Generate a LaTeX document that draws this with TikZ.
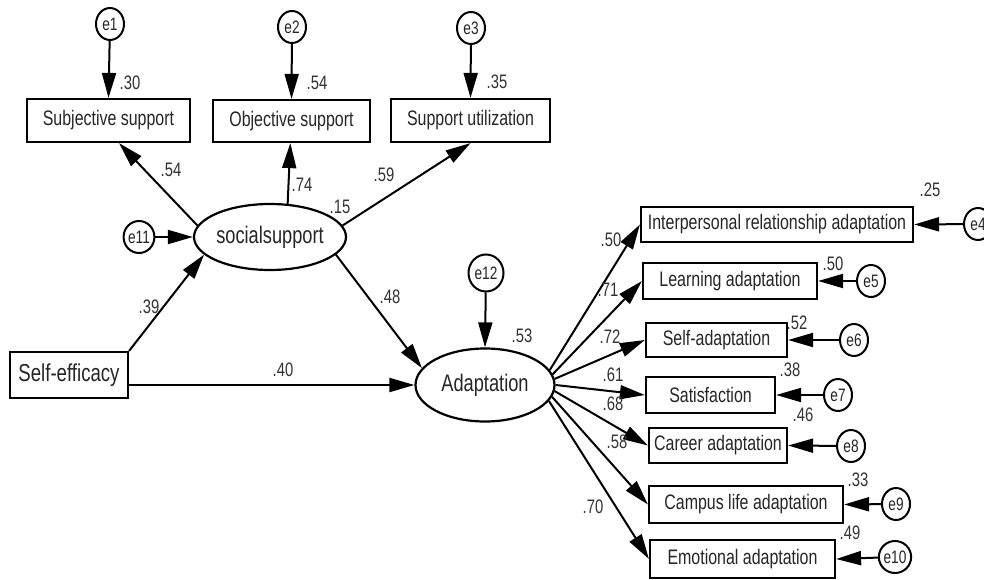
\documentclass[tikz,border=0pt]{standalone}
\usepackage{fontspec}
\setmainfont{Liberation Sans}[FakeStretch=0.76]
\usetikzlibrary{arrows.meta,shapes.geometric}
\begin{document}
\begin{tikzpicture}[x=1pt,y=-1pt,
  obs/.style={draw, line width=2.2pt, rectangle, inner sep=0pt, text=black!85, font=\fontsize{21}{24}\selectfont},
  lat/.style={draw, ellipse, line width=2.2pt, inner sep=0pt, text=black!85, font=\fontsize{24}{27}\selectfont},
  err/.style={draw, ellipse, line width=2pt, inner sep=0pt, minimum width=28pt, minimum height=32pt, text=black!85, font=\fontsize{18}{20}\selectfont},
  arr/.style={line width=2pt, -{Triangle[length=25pt,width=14pt]}},
  coef/.style={inner sep=0pt, text=black!80, font=\fontsize{19.5}{21}\selectfont}]
\clip (0,0) rectangle (984,580);
\fill[white] (0,0) rectangle (984,580);
% top indicators
\node[obs, minimum width=163pt, minimum height=43pt] (subj) at (108.5,120.5) {Subjective support};
\node[obs, minimum width=157pt, minimum height=42pt] (obj) at (291.5,121) {Objective support};
\node[obs, minimum width=159pt, minimum height=43pt] (util) at (470.5,120.5) {Support utilization};
\node[err] (e1) at (110,24) {e1};
\node[err] (e2) at (292,27) {e2};
\node[err] (e3) at (471,28) {e3};
% latent
\node[lat, minimum width=128pt, minimum height=66pt] (ss) at (270,237) {socialsupport};
\node[lat, minimum width=139pt, minimum height=73pt] (adapt) at (485,385) {Adaptation};
\node[err] (e11) at (139,237) {e11};
\node[err, minimum width=35pt, minimum height=37pt] (e12) at (486,273) {e12};
\node[obs, minimum width=118pt, minimum height=46pt, font=\fontsize{24.5}{27}\selectfont] (self) at (69,375) {Self-efficacy};
% right indicators
\node[obs, minimum width=272pt, minimum height=35pt] (ira) at (777,224.5) {Interpersonal relationship adaptation};
\node[obs, minimum width=174pt, minimum height=36pt] (learn) at (730,281) {Learning adaptation};
\node[obs, minimum width=141pt, minimum height=34pt] (selfad) at (716.5,340) {Self-adaptation};
\node[obs, minimum width=129pt, minimum height=36pt] (satis) at (710.5,395) {Satisfaction};
\node[obs, minimum width=138pt, minimum height=35pt] (career) at (718,445.5) {Career adaptation};
\node[obs, minimum width=194pt, minimum height=37pt] (campus) at (746,504.5) {Campus life adaptation};
\node[obs, minimum width=185pt, minimum height=38pt] (emot) at (742.5,559) {Emotional adaptation};
\node[err] (e4) at (978,224) {e4};
\node[err] (e5) at (871,281) {e5};
\node[err] (e6) at (854,340) {e6};
\node[err] (e7) at (838,395) {e7};
\node[err] (e8) at (851,446) {e8};
\node[err] (e9) at (896,504) {e9};
\node[err] (e10) at (895,557) {e10};
% connectors
\draw[arr] (e1) -- (subj.north);
\draw[arr] (e2) -- (obj.north);
\draw[arr] (e3) -- (util.north);
\draw[arr] (ss.171) -- (subj.-65);
\draw[arr] (ss.62) -- (obj.-93);
\draw[arr] (ss.9) -- (util.south);
\draw[arr] (e11) -- (ss);
\draw[arr] (self.north east) -- (ss.195);
\draw[arr] (ss.-15) -- (adapt.165);
\draw[arr] (self.east |- adapt.west) -- (adapt.west);
\draw[arr] (e12) -- (adapt.north);
\draw[arr] (adapt.13) -- (ira.west);
\draw[arr] (adapt.9) -- (learn.west);
\draw[arr] (adapt.5) -- (selfad.west);
\draw[arr] (adapt.0) -- (satis.west);
\draw[arr] (adapt.-5) -- (career.west);
\draw[arr] (adapt.-10) -- (campus.west);
\draw[arr] (adapt.-14) -- (emot.west);
\draw[arr] (e4) -- (ira.east);
\draw[arr] (e5) -- (learn.east);
\draw[arr] (e6) -- (selfad.east);
\draw[arr] (e7) -- (satis.east);
\draw[arr] (e8) -- (career.east);
\draw[arr] (e9) -- (campus.east);
\draw[arr] (e10) -- (emot.east);
% coefficients
\node[coef] (c1) at (130,83) {.30};
\node[coef] (c2) at (317,83) {.54};
\node[coef] (c3) at (497,82) {.35};
\node[coef] (c4) at (171,170) {.54};
\node[coef] (c5) at (302,185) {.74};
\node[coef] (c6) at (384,175) {.59};
\node[coef] (c7) at (340,207) {.15};
\node[coef] (c8) at (390,297) {.48};
\node[coef] (c9) at (149,307) {.39};
\node[coef] (c10) at (283,370) {.40};
\node[coef] (c11) at (522,336) {.53};
\node[coef] (c12) at (930,190) {.25};
\node[coef] (c13) at (833,264) {.50};
\node[coef] (c14) at (797,323) {.52};
\node[coef] (c15) at (790,370) {.38};
\node[coef] (c16) at (803,415) {.46};
\node[coef] (c17) at (858,480) {.33};
\node[coef] (c18) at (850,533) {.49};
\node[coef] (c19) at (611,240) {.50};
\node[coef] (c20) at (608,290) {.71};
\node[coef] (c21) at (610,337) {.72};
\node[coef] (c22) at (613,375) {.61};
\node[coef] (c23) at (613,404) {.68};
\node[coef] (c24) at (617,442) {.58};
\node[coef] (c25) at (593,507) {.70};
\end{tikzpicture}
\end{document}
